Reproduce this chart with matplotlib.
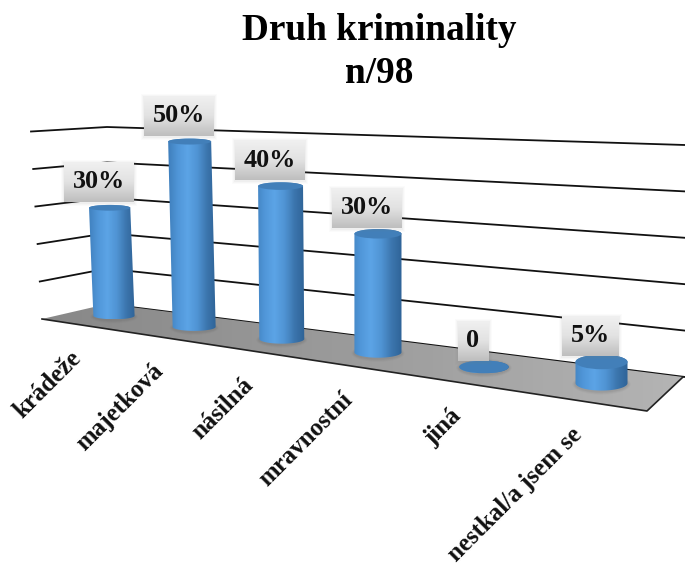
import numpy as np
import matplotlib
matplotlib.use('Agg')
import matplotlib.pyplot as plt
from matplotlib.patches import Polygon, Rectangle, Ellipse
from matplotlib.colors import LinearSegmentedColormap

plt.rcParams['font.family'] = ['Liberation Serif', 'DejaVu Serif']

categories = ['krádeže', 'majetková', 'násilná', 'mravnostní', 'jiná', 'nestkal/a jsem se']
values = [30, 50, 40, 30, 0, 5]
value_labels = ['30%', '50%', '40%', '30%', '0', '5%']
grid_values = [0, 10, 20, 30, 40, 50]
title_text = 'Druh kriminality\nn/98'

W, H = 685, 567
bar_cmap = LinearSegmentedColormap.from_list('bar', ['#3f7fbc', '#5096d8', '#5ca4e6', '#5094d4', '#3c76ae', '#2e6296'])
box_cmap = LinearSegmentedColormap.from_list('box', ['#f0f0f0', '#e2e2e2', '#bebebe'])
floor_cmap = LinearSegmentedColormap.from_list('floor', ['#888888', '#9c9c9c', '#b4b4b4'])


# perspective of the floor: t runs along the categories, depth 0 is front, 1 is back
def warp(u):
    return 0.75 * u / (1 - 0.25 * u)


def floor_point(t, depth):
    x_l, y_l = 42 + 65 * depth, 319 - 15 * depth
    x_r, y_r = 647 + 36 * depth, 411 - 34 * depth
    return x_l + (x_r - x_l) * t, y_l + (y_r - y_l) * t


def gradient(ax, patch, extent, cmap, vertical=False):
    n = np.linspace(0, 1, 64)
    img = n[:, None] if vertical else n[None, :]
    im = ax.imshow(img, extent=extent, cmap=cmap, aspect='auto', origin='upper', zorder=patch.get_zorder())
    ax.add_patch(patch)
    patch.set_facecolor('none')
    patch.set_edgecolor('none')
    im.set_clip_path(patch)


def cylinder(ax, i, value):
    t = warp((i + 0.5) / len(categories))
    cx, cy = floor_point(t, 0.56)
    cx -= 2
    r = 20.2 + 6.5 * t
    unit = 35.5 + 7.8 * t
    lean = min(0, -1.7 + 4 * t)
    tx, ty = cx + lean * value / 10, cy - unit * value / 10
    rb = r * (0.16 + 0.14 * t)
    rt = r * (0.16 + 0.14 * t - 0.001 * value)
    zo = 3 + i * 0.1

    a = np.linspace(0, np.pi, 40)
    # soft shadow on the floor
    for g, al in [(3, 0.05), (2, 0.07), (1, 0.09)]:
        ax.add_patch(Ellipse((cx, cy + 1), 2 * (r + g), 2 * (rb + g), color='#555555', alpha=al, lw=0, zorder=zo - 0.05))
    lower = np.column_stack([cx + r * np.cos(a), cy + rb * np.sin(a)])
    upper = np.column_stack([tx - r * np.cos(a), ty - rt * np.sin(a)])
    body = Polygon(np.vstack([lower, upper]), closed=True, zorder=zo)
    gradient(ax, body, (cx - r - 5, cx + r + 1, cy + rb, ty - rt), bar_cmap)
    ax.add_patch(Ellipse((tx, ty), 2 * r, 2 * rt, color='#427fb9', lw=0, zorder=zo + 0.01))
    return tx, ty


def label_box(ax, cx, cy, text):
    w = {3: 70, 2: 57, 1: 31}[len(text)]
    h = 40
    l, r = cx - w / 2, cx + w / 2
    top, bot = cy - h / 2, cy + h / 2
    for g, al in [(3, 0.03), (2, 0.04), (1, 0.06)]:
        ax.add_patch(Rectangle((l - g, top - g + 1), w + 2 * g, h + 2 * g, color='#808080', alpha=al, lw=0, zorder=6))
    box = Rectangle((l, top), w, h, zorder=6.5)
    gradient(ax, box, (l, r, bot, top), box_cmap, vertical=True)
    ax.text(cx, cy, text, fontsize=18.8, fontweight='bold', ha='center', va='center', color='#111111', zorder=7)


def main():
    fig = plt.figure(figsize=(W / 100, H / 100), dpi=100)
    ax = fig.add_axes([0, 0, 1, 1])

    # back wall grid
    for v in grid_values[1:]:
        xs = [42 - 0.22 * v, 107, 685]
        ys = [319 - 3.75 * v, 304 - 3.54 * v, 377 - 4.64 * v]
        ax.plot(xs, ys, color='#111111', lw=1.3, zorder=1)
    ax.plot([107, 685], [304, 377], color='#111111', lw=1.3, zorder=1)

    # floor
    corners = [floor_point(0, 0), floor_point(0, 1), floor_point(1, 1), floor_point(1, 0)]
    floor = Polygon(corners, closed=True, zorder=2)
    gradient(ax, floor, (42, 683, 411, 304), floor_cmap)
    ax.plot([corners[0][0], corners[3][0], corners[2][0]], [corners[0][1], corners[3][1], corners[2][1]],
            color='#222222', lw=1.2, zorder=2.1)

    for i, v in enumerate(values):
        tx, ty = cylinder(ax, i, v)
        label_box(ax, tx - 11, ty - 26, value_labels[i])

        t = warp((i + 0.5) / len(categories))
        fx, fy = floor_point(t, 0)
        ax.text(fx - 3, fy + 30, categories[i], fontsize=18, fontweight='bold', rotation=45,
                ha='right', va='center', rotation_mode='anchor', color='#111111', zorder=8)

    ax.text(379, 52, title_text, fontsize=26.8, fontweight='bold', ha='center', va='center',
            linespacing=1.27, color='black', zorder=8)

    ax.set_xlim(0, W)
    ax.set_ylim(H, 0)
    ax.axis('off')
    fig.savefig('out.png', dpi=100)


if __name__ == '__main__':
    main()
